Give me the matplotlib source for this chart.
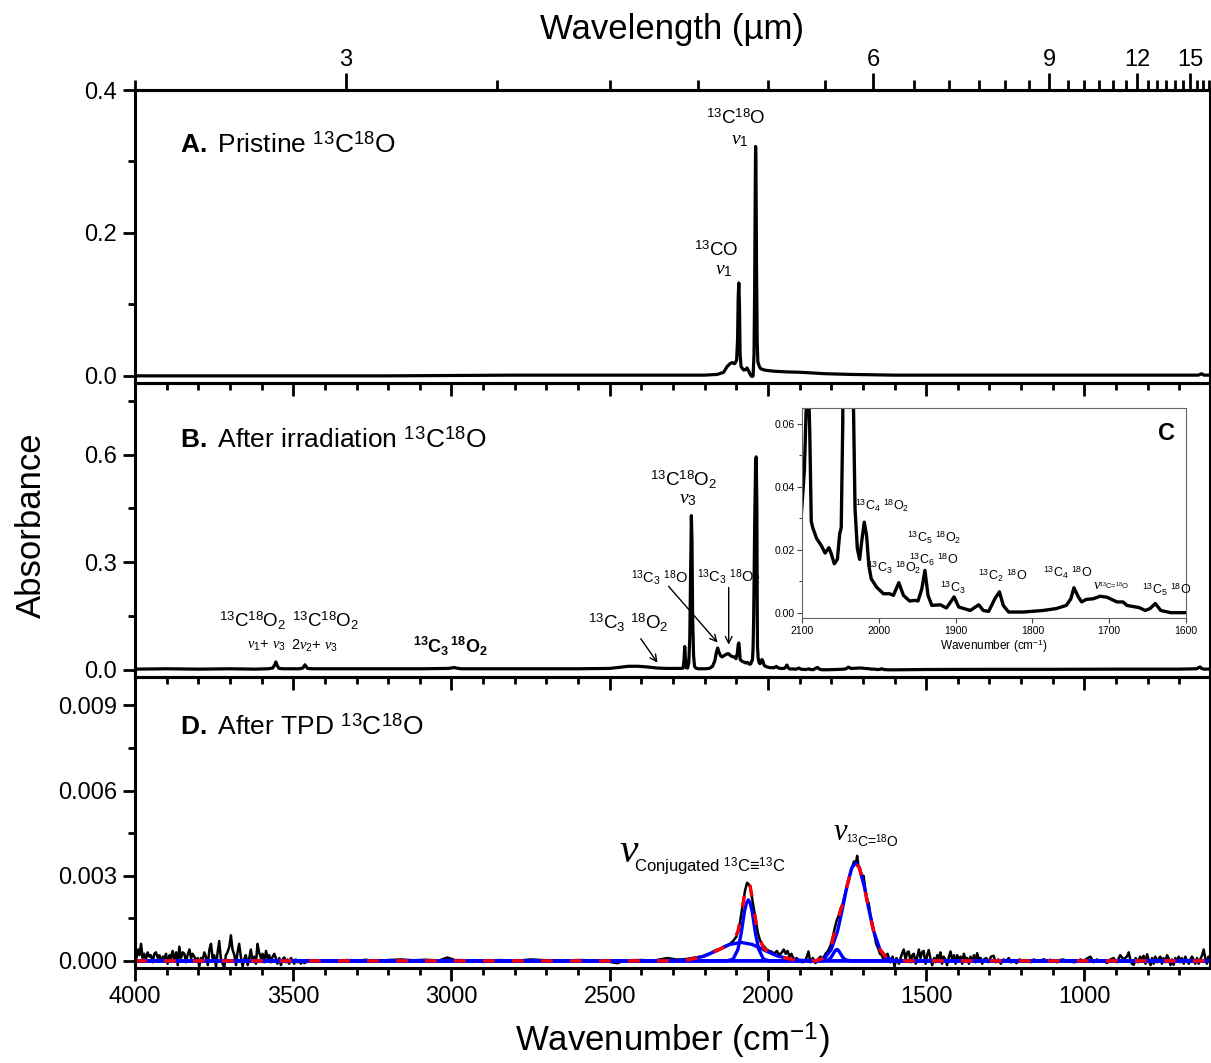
import matplotlib
matplotlib.use('Agg')
import matplotlib.pyplot as plt
import numpy as np
from matplotlib.ticker import MultipleLocator, FormatStrFormatter, FixedLocator

plt.rcParams['font.family'] = ['Liberation Sans', 'DejaVu Sans']
plt.rcParams['mathtext.fontset'] = 'custom'
plt.rcParams['mathtext.rm'] = 'Liberation Sans'
plt.rcParams['mathtext.sf'] = 'Liberation Sans'
plt.rcParams['mathtext.it'] = 'Liberation Serif:italic'
plt.rcParams['mathtext.bf'] = 'Liberation Sans:bold'
plt.rcParams['axes.linewidth'] = 2.2

# ---- panel A: pristine 13C18O (wavenumber cm-1, absorbance)
a_wn = [4000, 3600, 3200, 2800, 2400,
        2200, 2160, 2140, 2129, 2120,
        2113, 2105, 2099, 2096, 2094,
        2092, 2090, 2088, 2085, 2080,
        2076, 2070, 2066, 2060, 2055,
        2050, 2047, 2044, 2042, 2040,
        2039, 2038, 2036, 2034, 2032,
        2028, 2023, 2010, 1982, 1940,
        1897, 1820, 1739, 1600, 1300,
        1000, 800, 640, 630, 622,
        603]
a_ab = [0.000, 0.000, 0.000, 0.001, 0.001,
        0.001, 0.002, 0.005, 0.013, 0.017,
        0.0186, 0.017, 0.022, 0.05, 0.11,
        0.130, 0.10, 0.03, 0.013, 0.010,
        0.008, 0.009, 0.011, 0.006, 0.001,
        -0.001, 0.0, 0.03, 0.12, 0.27,
        0.321, 0.30, 0.15, 0.05, 0.020,
        0.014, 0.010, 0.008, 0.0065, 0.0055,
        0.005, 0.003, 0.002, 0.001, 0.001,
        0.001, 0.001, 0.001, 0.003, 0.001,
        0.001]

# ---- panel B: after irradiation (same data feeds inset C)
b_points = [
    (4000, 0.002), (3900, 0.003), (3800, 0.002), (3700, 0.003), (3620, 0.002),
    (3580, 0.003), (3565, 0.005), (3558, 0.015), (3555, 0.022), (3552, 0.014),
    (3545, 0.004), (3530, 0.003), (3480, 0.003), (3470, 0.005), (3465, 0.011),
    (3463, 0.014), (3460, 0.010), (3455, 0.004), (3440, 0.003), (3300, 0.003),
    (3100, 0.003), (3010, 0.004), (2995, 0.006), (2990, 0.0065), (2985, 0.005),
    (2970, 0.003), (2800, 0.003), (2600, 0.003), (2500, 0.004), (2470, 0.007),
    (2440, 0.010), (2410, 0.010), (2380, 0.008), (2350, 0.005), (2320, 0.004),
    (2290, 0.004), (2275, 0.004), (2268, 0.005), (2265, 0.03), (2263, 0.065),
    (2261, 0.035), (2258, 0.006), (2254, 0.005), (2250, 0.02), (2247, 0.09),
    (2244, 0.30), (2242, 0.43), (2240, 0.36), (2238, 0.15), (2235, 0.04),
    (2232, 0.010), (2228, 0.005), (2220, 0.003), (2200, 0.003), (2185, 0.004),
    (2175, 0.010), (2168, 0.025), (2163, 0.048), (2159, 0.061), (2155, 0.05),
    (2150, 0.040), (2145, 0.036), (2140, 0.039), (2134, 0.042), (2128, 0.045),
    (2124, 0.045), (2120, 0.041), (2113, 0.037), (2106, 0.036), (2101, 0.031),
    (2097, 0.045), (2094, 0.070), (2092, 0.075), (2090, 0.058), (2088, 0.029),
    (2086, 0.027), (2081, 0.0236), (2075, 0.0214), (2070, 0.019), (2065, 0.0207),
    (2062, 0.0188), (2058, 0.0156), (2054, 0.017), (2051, 0.0251), (2049, 0.027),
    (2047, 0.06), (2045, 0.15), (2042, 0.40), (2039, 0.58), (2037, 0.594),
    (2035, 0.45), (2034, 0.20), (2033, 0.065), (2031, 0.033), (2028, 0.0204),
    (2025, 0.017), (2023, 0.0214), (2019, 0.0288), (2016, 0.0246), (2013, 0.015),
    (2010, 0.0109), (2003, 0.0082), (1994, 0.0061), (1986, 0.0061), (1981, 0.0056),
    (1974, 0.0096), (1968, 0.0056), (1960, 0.0038), (1953, 0.004), (1949, 0.0038),
    (1944, 0.0077), (1940, 0.0135), (1936, 0.0056), (1931, 0.0024), (1920, 0.0026),
    (1912, 0.0016), (1902, 0.0051), (1896, 0.0019), (1881, 0.0008), (1870, 0.0026),
    (1864, 0.0008), (1857, 0.0005), (1849, 0.0045), (1843, 0.0067), (1838, 0.0024),
    (1831, 0.0003), (1812, 0.0003), (1786, 0.0008), (1769, 0.0014), (1756, 0.0024),
    (1750, 0.0045), (1746, 0.008), (1740, 0.005), (1736, 0.0035), (1730, 0.0043),
    (1721, 0.0045), (1712, 0.0053), (1703, 0.005), (1690, 0.0035), (1682, 0.0035),
    (1677, 0.0024), (1661, 0.0017), (1653, 0.0008), (1647, 0.0014), (1640, 0.003),
    (1633, 0.0008), (1620, 0.0001), (1600, 0.0001), (1500, 0.001), (1300, 0.0015),
    (1100, 0.0015), (900, 0.002), (700, 0.002), (645, 0.003), (638, 0.007),
    (634, 0.008), (630, 0.004), (622, 0.002), (603, 0.002),
]

# ---- panel D: after TPD, measured spectrum (absorbance in 1e-4 units)
d_points = [
    (4000, 3), (3996, 1), (3991, 4), (3986, 2), (3981, 6), (3976, 1), (3971, 2.5),
    (3966, 0.5), (3960, 3), (3955, 1.5), (3950, 2), (3944, -0.5), (3939, 2.5),
    (3934, 3), (3928, 1), (3923, 2), (3918, 0), (3912, 1.5), (3907, 1), (3902, 2.5),
    (3897, -1), (3891, 2), (3886, 1), (3881, 3.5), (3876, 0.5), (3870, 3),
    (3865, -1.5), (3860, 5), (3855, 1), (3849, 3), (3844, 2.5), (3839, -0.5),
    (3834, 2), (3828, 4), (3823, 1), (3818, 2.5), (3813, 1.5), (3807, 0), (3802, 1),
    (3797, -2), (3792, 1), (3786, 0.5), (3781, 3), (3776, 1.5), (3770, -1.5),
    (3765, 4), (3760, 6), (3755, 1), (3750, 2), (3744, -2), (3739, 3), (3734, 7),
    (3729, 1), (3723, -1), (3718, -2.5), (3713, 2), (3708, 3), (3702, 5), (3697, 9),
    (3692, 4), (3686, 2), (3681, -1.5), (3676, 3), (3671, 6), (3665, 1), (3660, -2),
    (3655, 0.5), (3650, 2), (3644, -1.5), (3639, 1), (3634, 4), (3629, 0),
    (3623, 1.5), (3618, -1), (3613, 6), (3608, 3), (3602, 1), (3597, 2.5),
    (3592, -0.5), (3586, 3.5), (3581, 1), (3576, 2), (3571, -0.5), (3565, 1.5),
    (3560, 2.5), (3555, 1), (3550, -1), (3544, 1), (3539, -1.5), (3534, 0.5),
    (3528, 1.2), (3523, -0.5), (3518, 0.5), (3513, -1), (3507, 1), (3502, 0),
    (3497, -1), (3492, 0.5), (3486, -0.5), (3481, 0.3), (3476, -1), (3470, 0),
    (3465, -0.8), (3450, 0.3), (3420, -0.3), (3390, 0.2), (3360, -0.2), (3330, 0.3),
    (3300, 0.0), (3270, 0.4), (3240, -0.2), (3200, 0.3), (3160, 0.5), (3120, 0.2),
    (3080, 0.4), (3040, 0.1), (3013, 1.2), (2990, 0.3), (2950, 0.2), (2900, -0.4),
    (2850, 0.3), (2800, 0.0), (2750, 0.5), (2700, 0.2), (2650, -0.2), (2600, 0.3),
    (2560, 0.2), (2520, 0.0), (2476, -0.8), (2450, 0.2), (2400, 0.3), (2360, 0.1),
    (2318, 1.0), (2290, 0.5), (2270, 0.5), (2250, 0.8), (2230, 1.2), (2210, 1.5),
    (2195, 2.2), (2180, 2.8), (2165, 3.8), (2150, 4.2), (2140, 5), (2130, 5.5),
    (2120, 6), (2110, 7), (2100, 8.5), (2092, 11), (2085, 16), (2078, 21),
    (2072, 25), (2066, 27.5), (2061, 27), (2056, 26), (2050, 22), (2044, 18),
    (2038, 14), (2032, 10), (2026, 7.5), (2020, 6), (2012, 5), (2004, 4),
    (1996, 3.5), (1988, 3.2), (1980, 2.5), (1972, 3.5), (1964, 2.0), (1956, 3.0),
    (1950, 4.0), (1944, 2.5), (1938, 3.5), (1932, 1.5), (1926, 2.5), (1918, 0.5),
    (1910, 1.0), (1900, 0.0), (1890, -0.5), (1880, 0.5), (1872, 3.3), (1866, -0.5),
    (1858, 1.0), (1850, -0.8), (1842, 0.5), (1834, 1.5), (1826, 0.8), (1818, 2.5),
    (1810, 3.5), (1802, 5.5), (1795, 8.5), (1788, 12), (1782, 14.5), (1776, 16),
    (1770, 18.5), (1764, 20), (1758, 23), (1752, 25.5), (1746, 28), (1740, 31),
    (1734, 33), (1728, 35), (1722, 34.5), (1718, 37), (1714, 33.5), (1708, 32),
    (1702, 29), (1698, 30), (1692, 25), (1686, 21), (1682, 20.5), (1676, 16),
    (1670, 13), (1664, 9.5), (1658, 6), (1652, 4.5), (1646, 2.5), (1640, 2),
    (1635, 0.5), (1630, 1.5), (1622, 2.5), (1614, -0.5), (1606, 1.5), (1600, -2),
    (1594, 1), (1586, -1), (1578, 2), (1571, 4), (1565, 0.5), (1560, 3), (1555, 3.3),
    (1549, -0.5), (1544, 2), (1539, 2.5), (1533, -1), (1528, 1.5), (1523, 4),
    (1518, 1), (1513, 3), (1508, 3.5), (1502, -1), (1497, 2), (1492, 3.8),
    (1486, 0.5), (1481, -1.5), (1475, 1), (1470, -0.5), (1465, 2), (1460, 1),
    (1455, 3), (1450, -1), (1445, 1.5), (1439, 0.5), (1434, -1.5), (1428, 1.5),
    (1423, 3.3), (1418, 0.5), (1412, 2), (1407, -1), (1402, 2), (1396, 0.5),
    (1391, 1.5), (1386, -1), (1381, 2.5), (1375, 0.5), (1370, 1), (1365, -1),
    (1360, 1.5), (1354, 0), (1349, 2), (1344, -0.5), (1339, 2.7), (1333, 0.5),
    (1328, 1), (1323, -1), (1318, 0.5), (1310, 1), (1303, -0.5), (1295, 1.5),
    (1287, 1.8), (1280, -0.5), (1272, 0.5), (1264, -1), (1255, 0.5), (1247, 0),
    (1239, 1), (1231, -0.5), (1223, 0.3), (1215, -0.8), (1205, 0.5), (1195, 0),
    (1181, 0.2), (1170, -0.5), (1160, 0.5), (1150, 0), (1140, -0.3), (1129, 0.6),
    (1118, -0.2), (1108, 0.4), (1097, 0), (1087, -0.5), (1076, 0.3), (1066, 0.5),
    (1055, -0.3), (1045, 0.2), (1034, -0.5), (1023, -0.3), (1013, 0.5), (1002, 0),
    (992, 0.8), (981, 1.5), (971, -0.5), (960, 0.5), (950, -0.3), (939, 0.2),
    (929, -0.8), (918, 0.5), (908, 1), (897, -0.5), (887, 2), (876, 0.5),
    (866, 1.5), (860, 3), (855, 0.5), (850, -1), (844, -1.4), (838, 1),
    (831, -0.5), (824, 1.5), (818, 0.5), (813, 1.8), (807, -1), (802, 2.3),
    (796, 0), (791, -1.5), (786, 1), (781, -1), (776, 1.5), (770, -0.5),
    (765, 0.8), (760, 1.5), (755, -1), (750, 1), (744, -0.5), (739, 2),
    (734, 1), (728, -1.5), (723, 0.5), (718, -1.4), (713, 1), (708, 0),
    (702, 1.5), (697, -0.5), (692, 1), (686, -1), (681, 1.5), (676, 0),
    (670, -1), (665, 0.5), (660, 1.5), (655, 0.5), (650, -1), (644, 1),
    (639, -1), (634, 0.5), (628, 2), (623, 4), (618, 1), (613, -1),
    (608, 1.5), (603, 0),
]

# fitted gaussian components, 1e-4 units
fit_broad_wn = [4000, 2300, 2250, 2200, 2160, 2120, 2085, 2050, 2010, 1970, 1920, 1870, 603]
fit_broad_ab = [0, 0, 0.4, 1.7, 3.7, 5.8, 6.5, 5.8, 3.7, 1.7, 0.4, 0, 0]
fit_narrow_wn = [4000, 2130, 2110, 2095, 2085, 2079, 2074, 2068, 2062, 2056, 2050,
                 2045, 2039, 2029, 2014, 1995, 603]
fit_narrow_ab = [0, 0, 0.6, 4, 9.4, 13.8, 17.5, 20.3, 21.5, 20.3, 17.5,
                 13.8, 9.4, 4, 0.6, 0, 0]
fit_small_wn = [4000, 1830, 1810, 1800, 1792, 1786, 1782, 1778, 1772, 1764, 1754, 1734, 603]
fit_small_ab = [0, 0, 0.3, 1.3, 2.8, 3.8, 4.0, 3.8, 2.8, 1.3, 0.3, 0, 0]
fit_main_wn = [4000, 1850, 1820, 1800, 1780, 1765, 1750, 1735, 1723, 1711, 1696,
               1681, 1666, 1646, 1626, 1600, 603]
fit_main_ab = [0, 0, 1.1, 4.0, 10.5, 18.1, 26.4, 32.8, 34.5, 32.8, 26.4,
               18.1, 10.5, 4.0, 1.1, 0, 0]
# cumulative fit (red dashed)
fit_sum_wn = [4000, 2300, 2250, 2200, 2160, 2130, 2110, 2095, 2085, 2075, 2068,
              2062, 2056, 2049, 2039, 2029, 2014, 1995, 1970, 1920, 1870, 1850,
              1820, 1800, 1792, 1786, 1780, 1772, 1765, 1750, 1735, 1723, 1711,
              1696, 1681, 1666, 1646, 1626, 1600, 603]
fit_sum_ab = [0, 0, 0.4, 1.7, 3.7, 5.3, 6.7, 10.4, 15.9, 22.4, 26.6,
              27.7, 26.3, 21.7, 14.6, 8.7, 4.5, 2.8, 1.7, 0.4, 0, 0,
              1.1, 5.3, 8.9, 11.9, 14.5, 17.2, 19.6, 26.4, 32.8, 34.5, 32.8,
              26.4, 18.1, 10.5, 4.0, 1.1, 0, 0]

wl_major = [3, 6, 9, 12, 15]

b_wn, b_ab = np.array(b_points).T
d_wn, d_ab = np.array(d_points).T
d_ab = d_ab * 1e-4

fig = plt.figure(figsize=(12.11, 10.63), dpi=100)
left, width = 0.1115, 0.8877
axA = fig.add_axes([left, 0.6397, width, 0.2756])
axB = fig.add_axes([left, 0.3631, width, 0.2766])
axD = fig.add_axes([left, 0.0894, width, 0.2737])

for ax in (axA, axB, axD):
    ax.set_facecolor('none')
    ax.set_xlim(4000, 603)
    ax.xaxis.set_major_locator(MultipleLocator(500))
    ax.xaxis.set_minor_locator(MultipleLocator(100))
    ax.tick_params(axis='both', which='both', direction='out', top=False, right=False,
                   width=2.0, labelsize=17)
    ax.tick_params(axis='both', which='major', length=9, pad=4)
    ax.tick_params(axis='both', which='minor', length=5)
    for s in ax.spines.values():
        s.set_linewidth(2.2)

axA.tick_params(axis='x', labelbottom=False)
axB.tick_params(axis='x', labelbottom=False)

# panel A
axA.plot(a_wn, a_ab, color='black', lw=2.3)
axA.set_ylim(-0.01, 0.4)
axA.yaxis.set_major_locator(MultipleLocator(0.2))
axA.yaxis.set_minor_locator(MultipleLocator(0.1))
axA.yaxis.set_major_formatter(FormatStrFormatter('%.1f'))
axA.text(0.042, 0.812, r"$\mathbf{A.}$ Pristine $^{13}$C$^{18}$O", transform=axA.transAxes,
         fontsize=19, va='center')
axA.text(2102, 0.361, r"$^{13}$C$^{18}$O", ha='center', va='center', fontsize=13.5)
axA.text(2090, 0.330, r"$\mathit{v}_1$", ha='center', va='center', fontsize=14)
axA.text(2165, 0.176, r"$^{13}$CO", ha='center', va='center', fontsize=13.5)
axA.text(2140, 0.148, r"$\mathit{v}_1$", ha='center', va='center', fontsize=14)

secax = axA.secondary_xaxis('top', functions=(lambda x: 1e4 / np.where(x == 0, 1e-9, x),
                                              lambda x: 1e4 / np.where(x == 0, 1e-9, x)))
secax.xaxis.set_major_locator(FixedLocator(wl_major))
secax.xaxis.set_minor_locator(MultipleLocator(0.5))
secax.xaxis.set_major_formatter(FormatStrFormatter('%d'))
secax.tick_params(which='both', direction='out', width=2.0, labelsize=17)
secax.tick_params(which='major', length=12, pad=2)
secax.tick_params(which='minor', length=7)
secax.spines['top'].set_linewidth(2.2)

# panel B
axB.plot(b_wn, b_ab, color='black', lw=2.3)
axB.set_ylim(-0.02, 0.8)
axB.yaxis.set_major_locator(MultipleLocator(0.3))
axB.yaxis.set_minor_locator(MultipleLocator(0.15))
axB.yaxis.set_major_formatter(FormatStrFormatter('%.1f'))
axB.text(0.042, 0.806, r"$\mathbf{B.}$ After irradiation $^{13}$C$^{18}$O",
         transform=axB.transAxes, fontsize=19, va='center')
axB.text(3627, 0.135, r"$^{13}$C$^{18}$O$_2$", ha='center', va='center', fontsize=13.5)
axB.text(3586, 0.066, r"$\mathit{v}_1$+ $\mathit{v}_3$", ha='center', va='center', fontsize=10.5)
axB.text(3397, 0.135, r"$^{13}$C$^{18}$O$_2$", ha='center', va='center', fontsize=13.5)
axB.text(3432, 0.066, r"2$\mathit{v}_2$+ $\mathit{v}_3$", ha='center', va='center', fontsize=10.5)
axB.text(3002, 0.064, r"$\mathbf{^{13}C_3\,^{18}O_2}$", ha='center', va='center', fontsize=13)
axB.text(2443, 0.132, r"$^{13}$C$_3$ $^{18}$O$_2$", ha='center', va='center', fontsize=13.5)
axB.text(2433, 0.255, r"$^{13}$C$_3$ $^{18}$O", ha='left', va='center', fontsize=10.5)
axB.text(2224, 0.258, r"$^{13}$C$_3$ $^{18}$O$_2$", ha='left', va='center', fontsize=10.5)
axB.text(2266, 0.530, r"$^{13}$C$^{18}$O$_2$", ha='center', va='center', fontsize=13.5)
axB.text(2254, 0.474, r"$\mathit{v}_3$", ha='center', va='center', fontsize=14)
arrow = dict(arrowstyle='->', lw=1.0, color='black', shrinkA=0, shrinkB=0, mutation_scale=12)
axB.annotate('', xy=(2349, 0.02), xytext=(2402, 0.087), arrowprops=arrow)
axB.annotate('', xy=(2159, 0.076), xytext=(2314, 0.233), arrowprops=arrow)
axB.annotate('', xy=(2124, 0.07), xytext=(2124, 0.23), arrowprops=arrow)

# inset C
axC = fig.add_axes([0.6623, 0.4186, 0.3171, 0.1976])
axC.plot(b_wn, b_ab, color='black', lw=2.4)
axC.set_xlim(2100, 1600)
axC.set_ylim(-0.0016, 0.065)
axC.xaxis.set_major_locator(MultipleLocator(100))
axC.yaxis.set_major_locator(MultipleLocator(0.02))
axC.yaxis.set_minor_locator(MultipleLocator(0.01))
axC.yaxis.set_major_formatter(FormatStrFormatter('%.2f'))
axC.tick_params(which='both', direction='out', labelsize=7.5, width=0.8, color='#444444')
axC.tick_params(which='major', length=3.5, pad=2)
axC.tick_params(which='minor', length=2)
for s in axC.spines.values():
    s.set_linewidth(0.8)
    s.set_color('#666666')
axC.set_xlabel(r"Wavenumber (cm$^{-1}$)", fontsize=8.5, labelpad=1)
fs_c = 9
axC.text(2031, 0.034, r"$^{13}$C$_4$ $^{18}$O$_2$", va='center', fontsize=fs_c)
axC.text(1963, 0.0238, r"$^{13}$C$_5$ $^{18}$O$_2$", va='center', fontsize=fs_c)
axC.text(1961, 0.0168, r"$^{13}$C$_6$ $^{18}$O", va='center', fontsize=fs_c)
axC.text(2015, 0.0143, r"$^{13}$C$_3$ $^{18}$O$_2$", va='center', fontsize=fs_c)
axC.text(1920, 0.008, r"$^{13}$C$_3$", va='center', fontsize=fs_c)
axC.text(1871, 0.0118, r"$^{13}$C$_2$ $^{18}$O", va='center', fontsize=fs_c)
axC.text(1786, 0.0128, r"$^{13}$C$_4$ $^{18}$O", va='center', fontsize=fs_c)
axC.text(1721, 0.0088, r"$\mathit{v}$", va='center', fontsize=11)
axC.text(1713, 0.0083, r"$^{13}$C=$^{18}$O", va='center', fontsize=5.5)
axC.text(1657, 0.0072, r"$^{13}$C$_5$ $^{18}$O", va='center', fontsize=fs_c)
axC.text(1615, 0.057, "C", ha='right', va='center', fontsize=17, fontweight='bold')

# panel D
axD.plot(d_wn, d_ab, color='black', lw=1.8)
blue_fits = [(fit_broad_wn, fit_broad_ab), (fit_narrow_wn, fit_narrow_ab),
             (fit_small_wn, fit_small_ab), (fit_main_wn, fit_main_ab)]
for wn, ab in blue_fits:
    axD.plot(wn, np.array(ab) * 1e-4, color='#0000ff', lw=2.4)
axD.plot(fit_sum_wn, np.array(fit_sum_ab) * 1e-4, color='#ff0000', lw=2.4, dashes=(3.5, 5.2))
axD.set_ylim(-0.00025, 0.0100)
axD.yaxis.set_major_locator(MultipleLocator(0.003))
axD.yaxis.set_minor_locator(MultipleLocator(0.0015))
axD.yaxis.set_major_formatter(FormatStrFormatter('%.3f'))
axD.text(0.042, 0.828, r"$\mathbf{D.}$ After TPD $^{13}$C$^{18}$O", transform=axD.transAxes,
         fontsize=19, va='center')
axD.text(2472, 0.00348, r"$\mathit{v}$", va='baseline', fontsize=30)
axD.text(2424, 0.00313, r"Conjugated $^{13}$C≡$^{13}$C", va='baseline', fontsize=12)
axD.text(1793, 0.00426, r"$\mathit{v}$", va='baseline', fontsize=22)
axD.text(1754, 0.00401, r"$^{13}$C=$^{18}$O", va='baseline', fontsize=10)

fig.text(0.555, 0.021, r"Wavenumber (cm$^{-1}$)", ha='center', va='center', fontsize=25)
fig.text(0.555, 0.972, r"Wavelength (µm)", ha='center', va='center', fontsize=25)
fig.text(0.026, 0.506, "Absorbance", ha='center', va='center', rotation=90, fontsize=25)

fig.savefig('out.png', dpi=100, facecolor='white')
